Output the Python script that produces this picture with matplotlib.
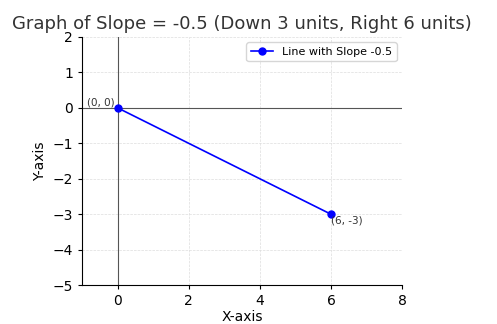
import matplotlib
matplotlib.use("Agg")
import matplotlib.pyplot as plt

# Line segment endpoints
x_vals = [0, 6]
y_vals = [0, -3]
point_labels = ["(0, 0)", "(6, -3)"]

fig = plt.figure(figsize=(4.97, 3.24), dpi=100)
ax = fig.add_axes([0.165, 0.120, 0.644, 0.766])

ax.plot(x_vals, y_vals, color="blue", marker="o", markersize=5, linewidth=1.2,
        label="Line with Slope -0.5", zorder=3)
ax.axhline(0, color="#555555", linewidth=0.8, zorder=2)
ax.axvline(0, color="#555555", linewidth=0.8, zorder=2)

ax.annotate(point_labels[0], (x_vals[0], y_vals[0]), xytext=(-22, 2),
            textcoords="offset points", fontsize=7.5, color="#333333")
ax.annotate(point_labels[1], (x_vals[1], y_vals[1]), xytext=(0, -7),
            textcoords="offset points", fontsize=7.5, color="#333333")

ax.set_xlim(-1, 8)
ax.set_ylim(-5, 2)
ax.set_xticks([0, 2, 4, 6, 8])
ax.set_yticks([-5, -4, -3, -2, -1, 0, 1, 2])
ax.set_axisbelow(True)
ax.grid(True, linestyle="--", linewidth=0.5, color="#dddddd", zorder=0)
ax.spines["top"].set_visible(False)
ax.spines["right"].set_visible(False)
ax.tick_params(labelsize=10, length=3)

ax.set_title("Graph of Slope = -0.5 (Down 3 units, Right 6 units)", fontsize=13,
             color="#333333")
ax.set_xlabel("X-axis", fontsize=10, labelpad=1)
ax.set_ylabel("Y-axis", fontsize=10)
ax.legend(loc="upper right", fontsize=8)

fig.savefig("out.png", dpi=100)
